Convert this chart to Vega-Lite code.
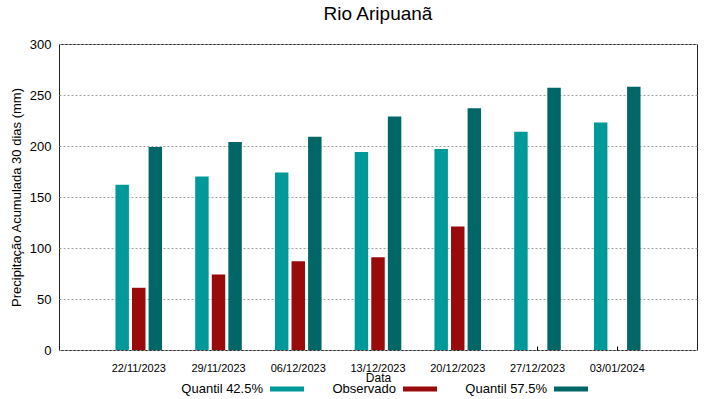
{
  "$schema": "https://vega.github.io/schema/vega-lite/v6.json",
  "autosize": "none",
  "width": 638,
  "height": 306,
  "padding": {"left": 59, "top": 44, "right": 22, "bottom": 49},
  "background": "white",
  "title": {"text": "Rio Aripuanã", "fontSize": 19, "font": "Liberation Sans", "fontWeight": "normal", "color": "black", "anchor": "middle", "offset": 14},
  "config": {
    "font": "Liberation Sans",
    "view": {"stroke": "#222222", "strokeWidth": 1}
  },
  "data": {"values": [
    {"data": "22/11/2023", "serie": "Quantil 42.5%", "valor": 162},
    {"data": "22/11/2023", "serie": "Observado", "valor": 61},
    {"data": "22/11/2023", "serie": "Quantil 57.5%", "valor": 199},
    {"data": "29/11/2023", "serie": "Quantil 42.5%", "valor": 170},
    {"data": "29/11/2023", "serie": "Observado", "valor": 74},
    {"data": "29/11/2023", "serie": "Quantil 57.5%", "valor": 204},
    {"data": "06/12/2023", "serie": "Quantil 42.5%", "valor": 174},
    {"data": "06/12/2023", "serie": "Observado", "valor": 87},
    {"data": "06/12/2023", "serie": "Quantil 57.5%", "valor": 209},
    {"data": "13/12/2023", "serie": "Quantil 42.5%", "valor": 194},
    {"data": "13/12/2023", "serie": "Observado", "valor": 91},
    {"data": "13/12/2023", "serie": "Quantil 57.5%", "valor": 229},
    {"data": "20/12/2023", "serie": "Quantil 42.5%", "valor": 197},
    {"data": "20/12/2023", "serie": "Observado", "valor": 121},
    {"data": "20/12/2023", "serie": "Quantil 57.5%", "valor": 237},
    {"data": "27/12/2023", "serie": "Quantil 42.5%", "valor": 214},
    {"data": "27/12/2023", "serie": "Quantil 57.5%", "valor": 257},
    {"data": "03/01/2024", "serie": "Quantil 42.5%", "valor": 223},
    {"data": "03/01/2024", "serie": "Quantil 57.5%", "valor": 258}
  ]},
  "mark": {"type": "bar"},
  "encoding": {
    "x": {
      "field": "data", "type": "nominal", "sort": null,
      "scale": {"paddingInner": 0, "paddingOuter": 0.5},
      "axis": {"title": "Data", "titleFontSize": 12, "titleFontWeight": "normal", "titleColor": "black", "titlePadding": -1,
               "labelAngle": 0, "labelFontSize": 11, "labelColor": "black", "labelPadding": 16,
               "ticks": true, "tickSize": -4, "tickColor": "black", "domain": false, "grid": false, "zindex": 0}
    },
    "xOffset": {
      "field": "serie", "type": "nominal",
      "sort": ["Quantil 42.5%", "Observado", "Quantil 57.5%"],
      "scale": {"paddingInner": 0.1875, "paddingOuter": 1.086}
    },
    "y": {
      "field": "valor", "type": "quantitative",
      "scale": {"domain": [0, 300], "nice": false},
      "axis": {"title": "Precipitação Acumulada 30 dias (mm)", "titleFontSize": 13, "titleFontWeight": "normal", "titleColor": "black", "titlePadding": 6,
               "values": [0, 50, 100, 150, 200, 250, 300], "labelFontSize": 13, "labelColor": "black", "labelPadding": 8,
               "ticks": false, "domain": false, "grid": true, "gridColor": "#a0a0a0", "gridDash": [2, 2], "gridWidth": 1}
    },
    "color": {
      "field": "serie", "type": "nominal",
      "sort": ["Quantil 42.5%", "Observado", "Quantil 57.5%"],
      "scale": {"domain": ["Quantil 42.5%", "Observado", "Quantil 57.5%"], "range": ["#009999", "#990a0a", "#006666"]},
      "legend": {
        "title": null, "orient": "none", "direction": "horizontal",
        "legendX": 211, "legendY": 328,
        "labelFontSize": 13, "labelColor": "black", "labelAlign": "right", "labelOffset": -41,
        "symbolType": "M-1,-0.15H1V0.15H-1Z", "symbolSize": 1156, "symbolStrokeWidth": 0, "symbolOpacity": 1,
        "columnPadding": 28
      }
    }
  }
}
